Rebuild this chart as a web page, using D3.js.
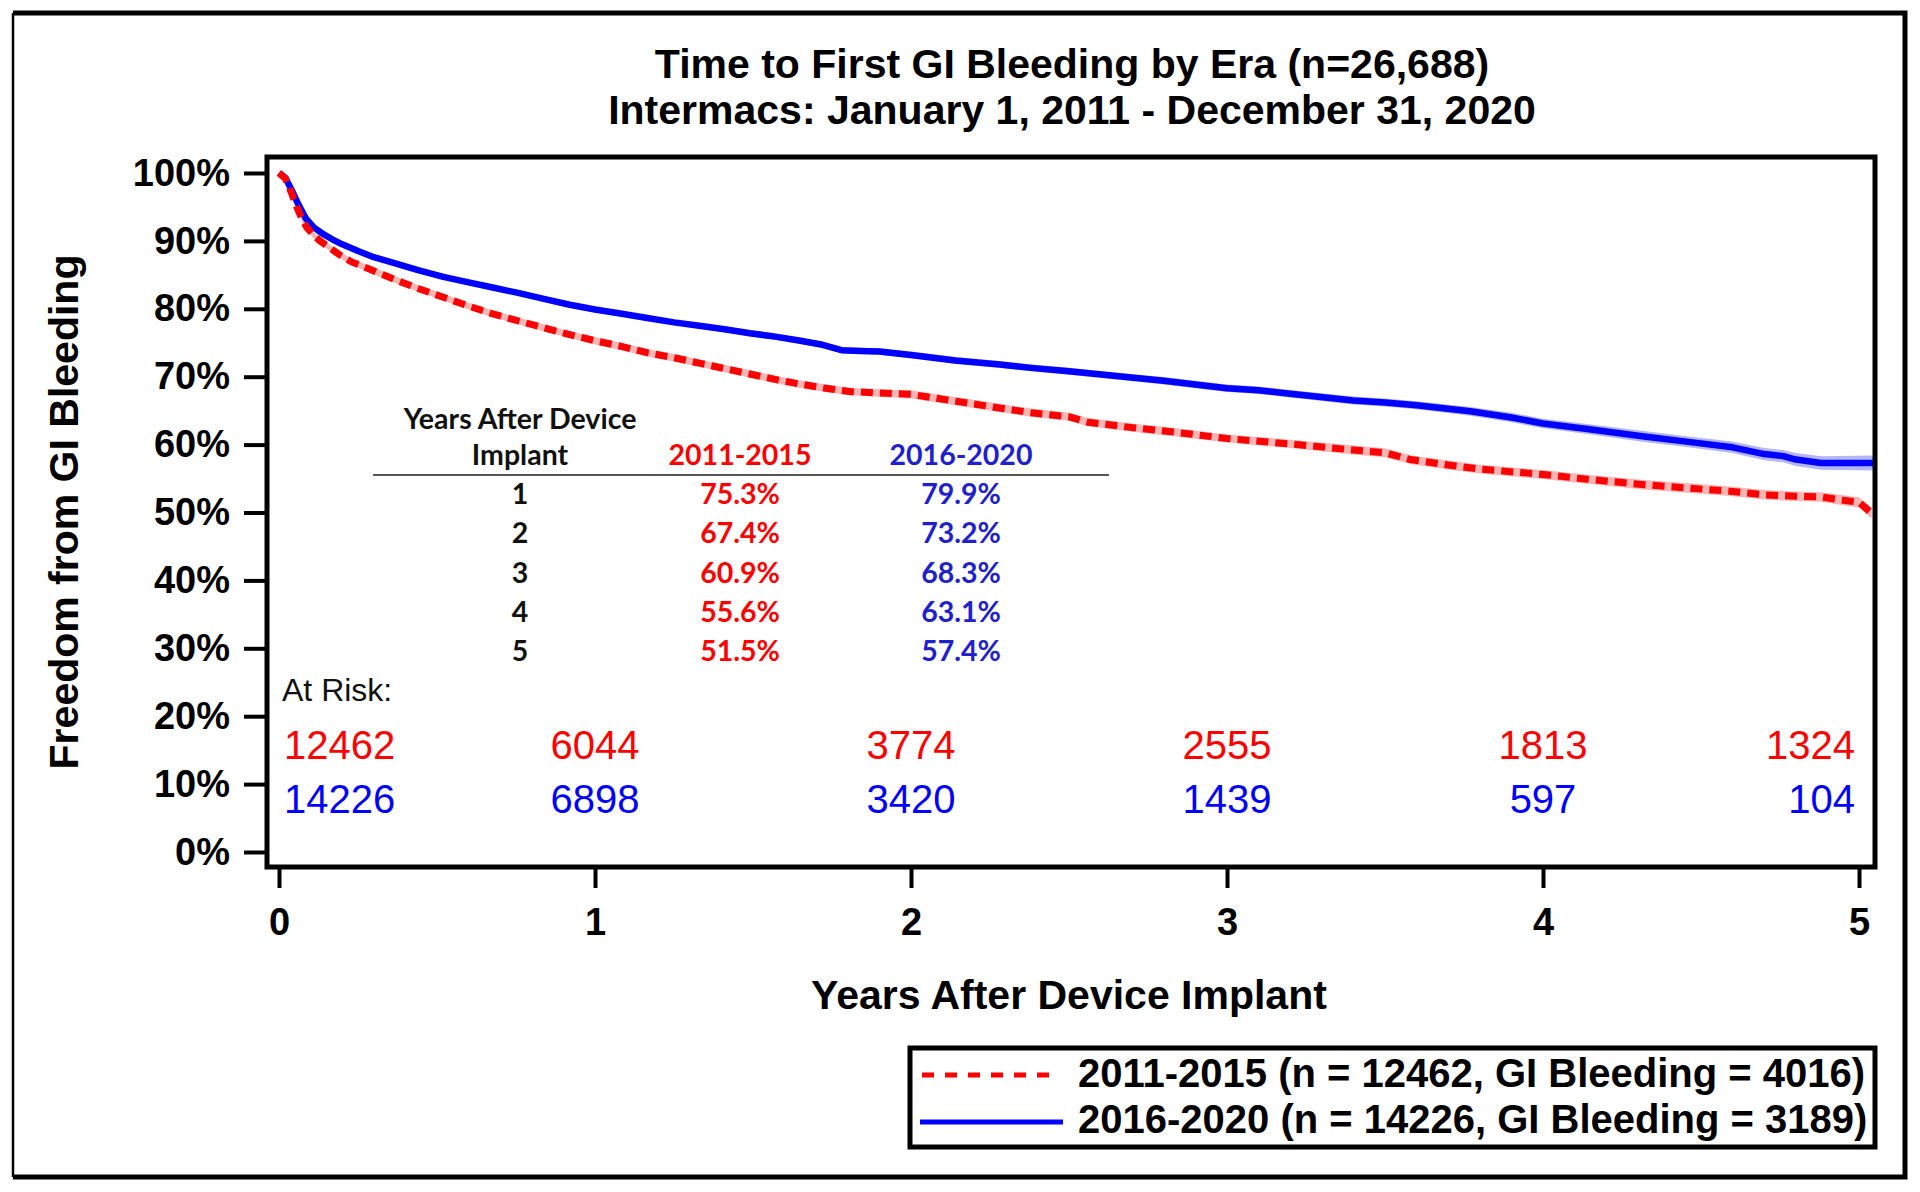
<!DOCTYPE html>
<html>
<head>
<meta charset="utf-8">
<script src="https://cdn.jsdelivr.net/npm/d3@7"></script>
<style>
  html, body { margin: 0; padding: 0; background: #fff; }
  svg { display: block; }
</style>
</head>
<body>
<svg id="chart" width="1920" height="1192"></svg>
<script>
// ---------------- DATA ----------------
const titleLines = ["Time to First GI Bleeding by Era (n=26,688)", "Intermacs: January 1, 2011 - December 31, 2020"];
const yTickValues = [0, 10, 20, 30, 40, 50, 60, 70, 80, 90, 100];
const xTickValues = [0, 1, 2, 3, 4, 5];

const seriesNames = ["2011-2015", "2016-2020"];
const legendLabels = ["2011-2015 (n = 12462, GI Bleeding = 4016)", "2016-2020 (n = 14226, GI Bleeding = 3189)"];

// 2016-2020 (blue) Kaplan-Meier estimate (years, % free)
const blueTimes = [0, 0.02, 0.04, 0.06, 0.085, 0.11, 0.14, 0.17, 0.2, 0.25, 0.3, 0.36, 0.44, 0.52, 0.6, 0.68, 0.76, 0.845, 0.92, 1.0,
  1.08, 1.17, 1.25, 1.33, 1.41, 1.49, 1.57, 1.65, 1.72, 1.78, 1.84, 1.9, 2.0, 2.14, 2.28, 2.38, 2.5, 2.65, 2.8, 3.0,
  3.1, 3.2, 3.4, 3.5, 3.6, 3.77, 3.9, 4.0, 4.14, 4.32, 4.46, 4.6, 4.7, 4.76, 4.8, 4.88, 5.05];
const blueSurv = [100, 99.3, 97.5, 95.5, 93.3, 92.0, 91.0, 90.2, 89.5, 88.5, 87.6, 86.8, 85.7, 84.7, 83.9, 83.1, 82.3, 81.4, 80.6, 79.9,
  79.3, 78.6, 78.0, 77.5, 77.0, 76.4, 75.9, 75.3, 74.7, 73.9, 73.8, 73.7, 73.2, 72.4, 71.8, 71.3, 70.8, 70.1, 69.4, 68.3,
  68.0, 67.5, 66.5, 66.2, 65.8, 64.9, 64.0, 63.1, 62.3, 61.2, 60.4, 59.6, 58.6, 58.3, 57.8, 57.3, 57.3];
const blueCIHalf = [0, 0.2, 0.25, 0.3, 0.3, 0.3, 0.3, 0.3, 0.3, 0.3, 0.3, 0.3, 0.3, 0.35, 0.35, 0.35, 0.35, 0.35, 0.35, 0.4,
  0.4, 0.4, 0.4, 0.4, 0.4, 0.45, 0.45, 0.45, 0.45, 0.45, 0.45, 0.45, 0.5, 0.5, 0.5, 0.5, 0.5, 0.5, 0.55, 0.55,
  0.55, 0.55, 0.6, 0.6, 0.6, 0.65, 0.7, 0.7, 0.75, 0.8, 0.8, 0.85, 0.9, 0.9, 0.95, 1.0, 1.1];

// 2011-2015 (red) Kaplan-Meier estimate (years, % free)
const redTimes = [0, 0.02, 0.04, 0.056, 0.075, 0.088, 0.11, 0.13, 0.16, 0.193, 0.23, 0.278, 0.33, 0.383, 0.44, 0.52, 0.6, 0.68, 0.76, 0.845,
  0.92, 1.0, 1.08, 1.168, 1.25, 1.33, 1.41, 1.49, 1.57, 1.65, 1.73, 1.81, 1.9, 2.0, 2.14, 2.28, 2.38, 2.5, 2.56, 2.7,
  2.84, 3.0, 3.2, 3.4, 3.5, 3.58, 3.7, 3.8, 3.95, 4.0, 4.14, 4.32, 4.46, 4.6, 4.7, 4.8, 4.88, 4.95, 5.0, 5.04];
const redSurv = [100, 99.2, 97.0, 95.0, 93.0, 92.0, 90.8, 90.0, 89.0, 87.9, 86.9, 86.0, 85.0, 84.0, 83.0, 81.7, 80.4, 79.2, 78.2, 77.1,
  76.2, 75.3, 74.5, 73.5, 72.8, 72.0, 71.2, 70.4, 69.6, 68.9, 68.3, 67.8, 67.6, 67.4, 66.4, 65.4, 64.7, 64.1, 63.3, 62.5,
  61.8, 60.9, 60.1, 59.2, 58.8, 57.8, 57.0, 56.4, 55.8, 55.6, 54.9, 54.1, 53.6, 53.1, 52.6, 52.4, 52.3, 51.8, 51.5, 49.9];
const redCIHalf = [0, 0.4, 0.45, 0.45, 0.45, 0.45, 0.45, 0.45, 0.45, 0.45, 0.5, 0.5, 0.5, 0.5, 0.5, 0.5, 0.5, 0.5, 0.5, 0.5,
  0.5, 0.55, 0.55, 0.55, 0.55, 0.55, 0.55, 0.55, 0.55, 0.55, 0.55, 0.55, 0.55, 0.6, 0.6, 0.6, 0.6, 0.6, 0.6, 0.6,
  0.6, 0.6, 0.6, 0.65, 0.65, 0.65, 0.65, 0.65, 0.65, 0.65, 0.65, 0.7, 0.7, 0.7, 0.7, 0.7, 0.7, 0.75, 0.75, 0.8];

// Summary table
const tableHeader = ["Years After Device", "Implant"];
const tableYears = [1, 2, 3, 4, 5];
const tableRed = ["75.3%", "67.4%", "60.9%", "55.6%", "51.5%"];
const tableBlue = ["79.9%", "73.2%", "68.3%", "63.1%", "57.4%"];

// Numbers at risk
const atRiskYears = [0, 1, 2, 3, 4, 5];
const atRiskRed = [12462, 6044, 3774, 2555, 1813, 1324];
const atRiskBlue = [14226, 6898, 3420, 1439, 597, 104];

// ---------------- DRAW ----------------
const RED = "#ff0000", BLUE = "#0000ff";
const TRED = "#ff0000", TBLUE = "#2020cc";
const FONT = "'Liberation Sans', Arial, sans-serif";
const TFONT = "Lato, 'Open Sans', sans-serif";

const svg = d3.select("#chart");
svg.append("rect").attr("width", 1920).attr("height", 1192).attr("fill", "#fff");

// outer frame
svg.append("path")
  .attr("d", "M13,13 H1905 V1177 H13")
  .attr("fill", "none").attr("stroke", "#000").attr("stroke-width", 5);
svg.append("line").attr("x1", 13).attr("x2", 13).attr("y1", 13).attr("y2", 1177)
  .attr("stroke", "#000").attr("stroke-width", 2.5);

const x = d3.scaleLinear().domain([0, 5]).range([279, 1859]);
const y = d3.scaleLinear().domain([0, 100]).range([852, 173]);

// title
svg.selectAll("text.title").data(titleLines).join("text")
  .attr("class", "title")
  .attr("x", 1072).attr("y", (d, i) => 78 + i * 46)
  .attr("text-anchor", "middle")
  .attr("font-family", FONT).attr("font-weight", "bold").attr("font-size", 41)
  .text(d => d);

// CI bands
function band(times, surv, half, color) {
  const pts = times.map((t, i) => ({t, lo: surv[i] - half[i], hi: surv[i] + half[i]}));
  svg.append("path").datum(pts)
    .attr("fill", color)
    .attr("d", d3.area().x(d => x(d.t)).y0(d => y(d.lo)).y1(d => y(d.hi)));
}
band(blueTimes, blueSurv, blueCIHalf, "#b4b4ff");
band(redTimes, redSurv, redCIHalf, "#ffb4b4");

const line = d3.line().x(d => x(d[0])).y(d => y(d[1]));
svg.append("path").datum(blueTimes.map((t, i) => [t, blueSurv[i]]))
  .attr("fill", "none").attr("stroke", BLUE).attr("stroke-width", 6.5)
  .attr("stroke-linejoin", "round").attr("d", line);
svg.append("path").datum(redTimes.map((t, i) => [t, redSurv[i]]))
  .attr("fill", "none").attr("stroke", RED).attr("stroke-width", 7)
  .attr("stroke-dasharray", "12,7").attr("d", line);

// plot border
svg.append("rect").attr("x", 267).attr("y", 157).attr("width", 1608).attr("height", 710)
  .attr("fill", "none").attr("stroke", "#000").attr("stroke-width", 5);

// y axis
const yAxis = svg.append("g").attr("transform", "translate(267,0)")
  .call(d3.axisLeft(y).tickValues(yTickValues).tickSize(23).tickPadding(14).tickFormat(d => d + "%"));
yAxis.select(".domain").remove();
yAxis.selectAll(".tick line").attr("stroke", "#000").attr("stroke-width", 4);
yAxis.selectAll(".tick text").attr("font-family", FONT).attr("font-weight", "bold")
  .attr("font-size", 38).attr("fill", "#000");

// x axis
const xAxis = svg.append("g").attr("transform", "translate(0,867)")
  .call(d3.axisBottom(x).tickValues(xTickValues).tickSize(21).tickPadding(20).tickFormat(d3.format("d")));
xAxis.select(".domain").remove();
xAxis.selectAll(".tick line").attr("stroke", "#000").attr("stroke-width", 4);
xAxis.selectAll(".tick text").attr("font-family", FONT).attr("font-weight", "bold")
  .attr("font-size", 38).attr("fill", "#000");

// axis titles
svg.append("text").attr("transform", "translate(78,512) rotate(-90)")
  .attr("text-anchor", "middle").attr("font-family", FONT).attr("font-weight", "bold")
  .attr("font-size", 41).text("Freedom from GI Bleeding");
svg.append("text").attr("x", 1069).attr("y", 1009)
  .attr("text-anchor", "middle").attr("font-family", FONT).attr("font-weight", "bold")
  .attr("font-size", 41).text("Years After Device Implant");

// summary table
const colX = [520, 740, 961];
const tg = svg.append("g").attr("font-family", TFONT).attr("font-weight", "bold").attr("font-size", 28.5);
tg.append("text").attr("x", colX[0]).attr("y", 429).attr("text-anchor", "middle").attr("fill", "#111").text(tableHeader[0]);
tg.append("text").attr("x", colX[0]).attr("y", 465).attr("text-anchor", "middle").attr("fill", "#111").text(tableHeader[1]);
tg.append("text").attr("x", colX[1]).attr("y", 465).attr("text-anchor", "middle").attr("fill", TRED).text(seriesNames[0]);
tg.append("text").attr("x", colX[2]).attr("y", 465).attr("text-anchor", "middle").attr("fill", TBLUE).text(seriesNames[1]);
tg.append("line").attr("x1", 373).attr("x2", 1109).attr("y1", 475).attr("y2", 475)
  .attr("stroke", "#555").attr("stroke-width", 2);
const rowY = d3.scaleLinear().domain([1, 5]).range([504, 661]);
tg.selectAll("text.yr").data(tableYears).join("text").attr("class", "yr")
  .attr("x", colX[0]).attr("y", d => rowY(d)).attr("text-anchor", "middle").attr("fill", "#111").text(d => d);
tg.selectAll("text.tr").data(tableRed).join("text").attr("class", "tr")
  .attr("x", colX[1]).attr("y", (d, i) => rowY(tableYears[i])).attr("text-anchor", "middle").attr("fill", TRED).text(d => d);
tg.selectAll("text.tb").data(tableBlue).join("text").attr("class", "tb")
  .attr("x", colX[2]).attr("y", (d, i) => rowY(tableYears[i])).attr("text-anchor", "middle").attr("fill", TBLUE).text(d => d);

// at risk
svg.append("text").attr("x", 282).attr("y", 701).attr("font-family", FONT).attr("font-size", 32)
  .attr("fill", "#111").text("At Risk:");
function anchorFor(i, n) { return i === 0 ? "start" : (i === n - 1 ? "end" : "middle"); }
function xFor(i, n) { return i === 0 ? x(atRiskYears[i]) + 5 : (i === n - 1 ? x(atRiskYears[i]) - 4 : x(atRiskYears[i])); }
svg.selectAll("text.arr").data(atRiskRed).join("text").attr("class", "arr")
  .attr("x", (d, i) => xFor(i, atRiskRed.length)).attr("y", 759)
  .attr("text-anchor", (d, i) => anchorFor(i, atRiskRed.length))
  .attr("font-family", FONT).attr("font-size", 40).attr("fill", RED).text(d => d);
svg.selectAll("text.arb").data(atRiskBlue).join("text").attr("class", "arb")
  .attr("x", (d, i) => xFor(i, atRiskBlue.length)).attr("y", 813)
  .attr("text-anchor", (d, i) => anchorFor(i, atRiskBlue.length))
  .attr("font-family", FONT).attr("font-size", 40).attr("fill", BLUE).text(d => d);

// legend
svg.append("rect").attr("x", 910).attr("y", 1048).attr("width", 965).attr("height", 99)
  .attr("fill", "#fff").attr("stroke", "#000").attr("stroke-width", 5);
svg.append("line").attr("x1", 922).attr("x2", 1058).attr("y1", 1075).attr("y2", 1075)
  .attr("stroke", RED).attr("stroke-width", 5).attr("stroke-dasharray", "12,11");
svg.append("line").attr("x1", 920).attr("x2", 1063).attr("y1", 1122).attr("y2", 1122)
  .attr("stroke", BLUE).attr("stroke-width", 5);
svg.selectAll("text.leg").data(legendLabels).join("text").attr("class", "leg")
  .attr("x", 1078).attr("y", (d, i) => 1087 + i * 46)
  .attr("font-family", FONT).attr("font-weight", "bold").attr("font-size", 40).attr("fill", "#000")
  .text(d => d);
</script>
</body>
</html>
